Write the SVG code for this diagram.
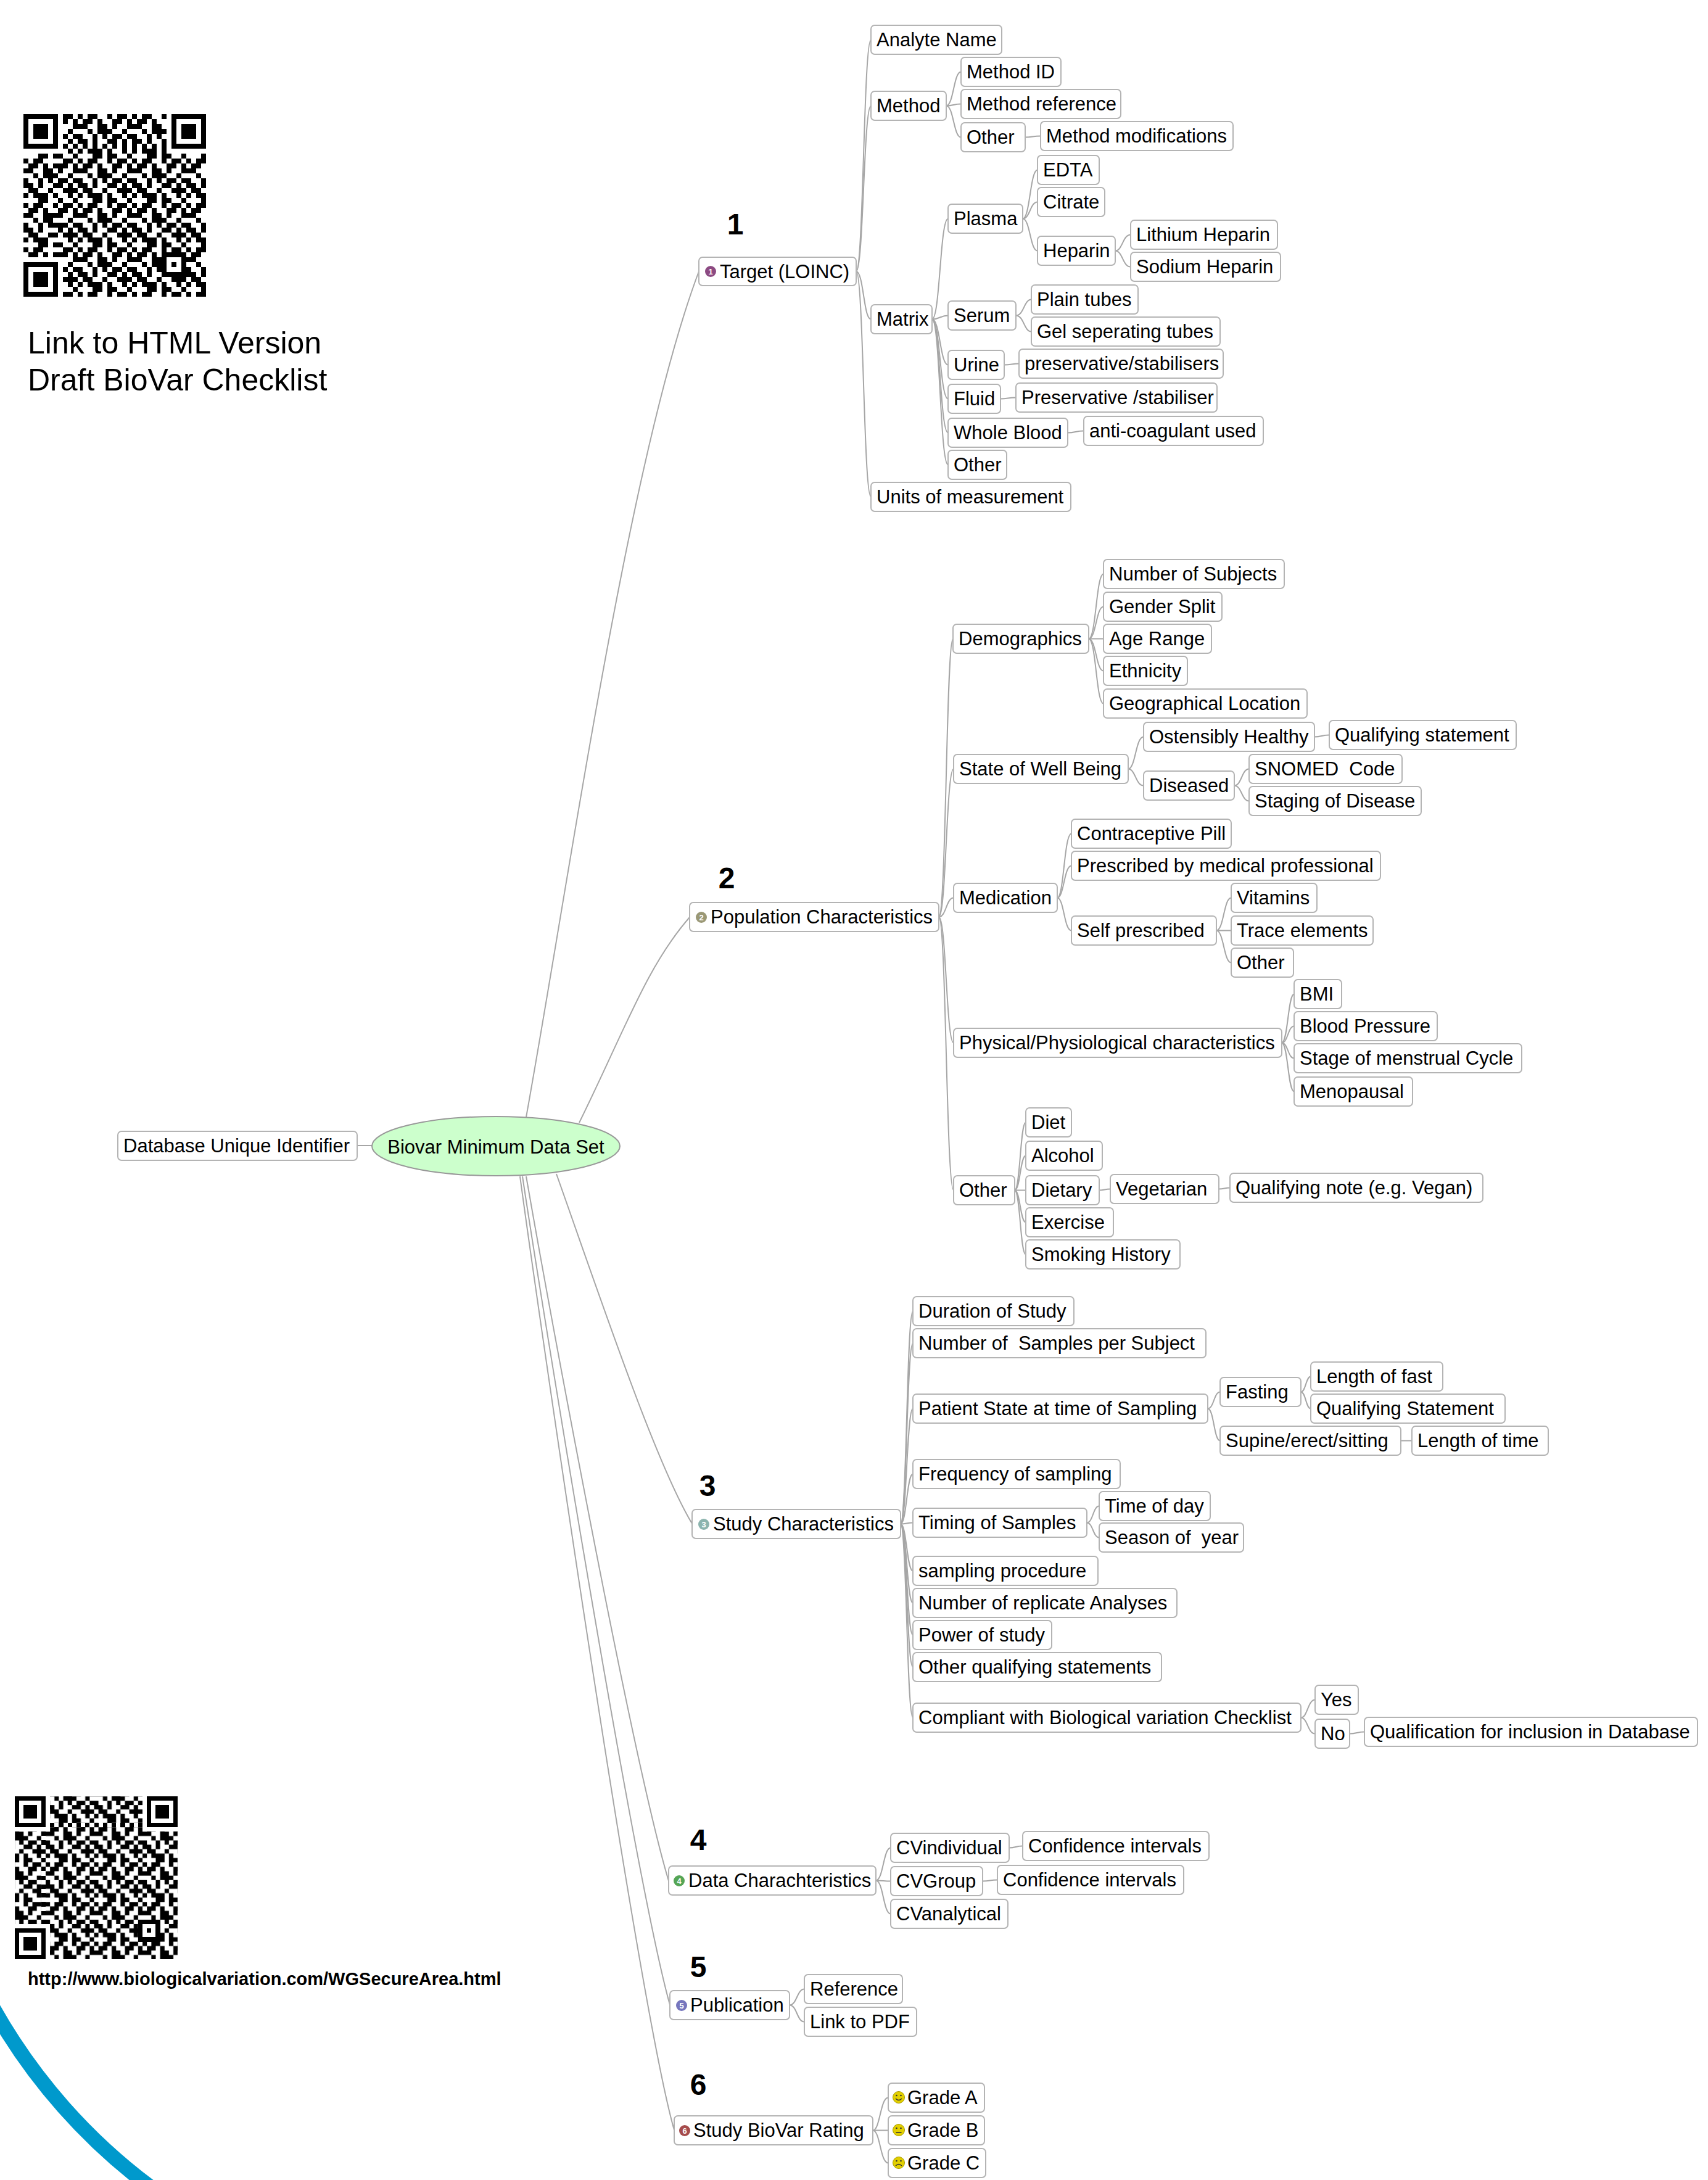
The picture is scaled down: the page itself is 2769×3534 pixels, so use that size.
<svg xmlns="http://www.w3.org/2000/svg" width="2769" height="3534" viewBox="0 0 2769 3534">
<style>
.b{fill:#fff;stroke:#b4b4b4;stroke-width:2;rx:6px;ry:6px}
.t{font-family:"Liberation Sans",Arial,sans-serif;font-size:31px;fill:#000;white-space:pre}
.c{fill:none;stroke:#a6a6a6;stroke-width:2}
.num{font-family:"Liberation Sans",Arial,sans-serif;font-size:48px;font-weight:bold;fill:#000;text-anchor:middle}
.big{font-family:"Liberation Sans",Arial,sans-serif;font-size:50px;fill:#000}
.url{font-family:"Liberation Sans",Arial,sans-serif;font-size:29px;font-weight:bold;fill:#000}
.ic{font-family:"Liberation Sans",Arial,sans-serif;font-size:13px;font-weight:bold;fill:#fff;text-anchor:middle}
.sm{fill:#e2cf00;stroke:#a89a00;stroke-width:1}
.face{fill:none;stroke:#333;stroke-width:1.6}
</style>
<defs>
<pattern id="qrp" width="11" height="9" patternUnits="userSpaceOnUse">
<path d="M0 0h1v1h-1zM2 0h2v1h-2zM6 0h1v1h-1zM8 0h2v1h-2zM1 1h2v1h-2zM4 1h1v1h-1zM7 1h2v1h-2zM10 1h1v1h-1zM0 2h2v1h-2zM4 2h2v1h-2zM7 2h1v1h-1zM10 2h1v1h-1zM2 3h1v1h-1zM4 3h3v1h-3zM9 3h1v1h-1zM0 4h1v1h-1zM3 4h1v1h-1zM5 4h1v1h-1zM7 4h2v1h-2zM10 4h1v1h-1zM0 5h2v1h-2zM3 5h1v1h-1zM6 5h2v1h-2zM9 5h1v1h-1zM1 6h2v1h-2zM5 6h1v1h-1zM8 6h3v1h-3zM0 7h1v1h-1zM2 7h3v1h-3zM6 7h1v1h-1zM9 7h1v1h-1zM3 8h2v1h-2zM6 8h2v1h-2zM10 8h1v1h-1z" fill="#000"/>
</pattern>
<g id="qrfix" shape-rendering="crispEdges">
<rect x="0" y="0" width="8" height="8" fill="#fff"/><rect x="29" y="0" width="8" height="8" fill="#fff"/><rect x="0" y="29" width="8" height="8" fill="#fff"/>
<rect x="8" y="6" width="21" height="1" fill="#fff"/><rect x="6" y="8" width="1" height="21" fill="#fff"/>
<path d="M0 0h7v7h-7zM30 0h7v7h-7zM0 30h7v7h-7zM28 28h5v5h-5z" fill="#000"/>
<path d="M1 1h5v5h-5zM31 1h5v5h-5zM1 31h5v5h-5zM29 29h3v3h-3z" fill="#fff"/>
<path d="M2 2h3v3h-3zM32 2h3v3h-3zM2 32h3v3h-3zM30 30h1v1h-1zM8 6h1v1h-1zM10 6h1v1h-1zM12 6h1v1h-1zM14 6h1v1h-1zM16 6h1v1h-1zM18 6h1v1h-1zM20 6h1v1h-1zM22 6h1v1h-1zM24 6h1v1h-1zM26 6h1v1h-1zM28 6h1v1h-1zM6 8h1v1h-1zM6 10h1v1h-1zM6 12h1v1h-1zM6 14h1v1h-1zM6 16h1v1h-1zM6 18h1v1h-1zM6 20h1v1h-1zM6 22h1v1h-1zM6 24h1v1h-1zM6 26h1v1h-1zM6 28h1v1h-1z" fill="#000"/>
</g>
</defs>
<rect width="2769" height="3534" fill="#fff"/>

<g id="qr-top" transform="translate(38,185) scale(8)" shape-rendering="crispEdges">
<rect width="37" height="37" fill="url(#qrp)"/>
<use href="#qrfix"/>
</g>
<g id="qr-bottom" transform="translate(24,2912) scale(7.14)" shape-rendering="crispEdges">
<g transform="translate(-4,-3)"><rect x="4" y="3" width="37" height="37" fill="url(#qrp)"/></g>
<use href="#qrfix"/>
</g>
<text class="big" x="45" y="573">Link to HTML Version</text>
<text class="big" x="45" y="633">Draft BioVar Checklist</text>
<text class="url" x="45" y="3218">http://www.biologicalvariation.com/WGSecureArea.html</text>
<path id="blue-arc" d="M-20 3239 A930 930 0 0 0 264 3560" fill="none" stroke="#0099cc" stroke-width="24"/>

<g id="connectors">
<path class="c" d="M579 1857H603"/>
<path class="c" d="M853 1811C925 1411 1020 740 1133 440"/>
<path class="c" d="M939 1820C1013 1670 1048 1567 1118 1487"/>
<path class="c" d="M902 1903C973 2103 1062 2370 1122 2470"/>
<path class="c" d="M853 1907C888 2107 1024 2849 1084 3049"/>
<path class="c" d="M847 1907C877 2107 1030 3050 1086 3250"/>
<path class="c" d="M843 1907C870 2107 1035 3250 1093 3453"/>
<!-- branch 1 -->
<path class="c" d="M1388 440C1400 440 1400 64.5 1412 64.5"/>
<path class="c" d="M1388 440C1400 440 1400 171.5 1412 171.5"/>
<path class="c" d="M1388 440C1400 440 1400 517.5 1412 517.5"/>
<path class="c" d="M1388 440C1400 440 1400 805.5 1412 805.5"/>
<path class="c" d="M1534 171.5C1546 171.5 1546 116.5 1558 116.5"/>
<path class="c" d="M1534 171.5C1546 171.5 1546 168.5 1558 168.5"/>
<path class="c" d="M1534 171.5C1546 171.5 1546 222.5 1558 222.5"/>
<path class="c" d="M1662 222.5C1674 222.5 1674 220.5 1687 220.5"/>
<path class="c" d="M1511 517.5C1524 517.5 1524 354.5 1537 354.5"/>
<path class="c" d="M1511 517.5C1524 517.5 1524 511.5 1537 511.5"/>
<path class="c" d="M1511 517.5C1524 517.5 1524 591.5 1537 591.5"/>
<path class="c" d="M1511 517.5C1524 517.5 1524 646.5 1537 646.5"/>
<path class="c" d="M1511 517.5C1524 517.5 1524 701.5 1537 701.5"/>
<path class="c" d="M1511 517.5C1524 517.5 1524 753.5 1537 753.5"/>
<path class="c" d="M1658 354.5C1670 354.5 1670 275.5 1682 275.5"/>
<path class="c" d="M1658 354.5C1670 354.5 1670 327.5 1682 327.5"/>
<path class="c" d="M1658 354.5C1670 354.5 1670 406.5 1682 406.5"/>
<path class="c" d="M1808 406.5C1820 406.5 1820 380.5 1833 380.5"/>
<path class="c" d="M1808 406.5C1820 406.5 1820 432.5 1833 432.5"/>
<path class="c" d="M1647 511.5C1660 511.5 1660 485.5 1672 485.5"/>
<path class="c" d="M1647 511.5C1660 511.5 1660 537.5 1672 537.5"/>
<path class="c" d="M1628 591.5C1640 591.5 1640 589.5 1652 589.5"/>
<path class="c" d="M1622 646.5C1634 646.5 1634 644.5 1647 644.5"/>
<path class="c" d="M1731 701.5C1744 701.5 1744 698.5 1757 698.5"/>
<!-- branch 2 -->
<path class="c" d="M1522 1486.5C1534 1486.5 1534 1035.5 1545 1035.5"/>
<path class="c" d="M1522 1486.5C1534 1486.5 1534 1246.5 1546 1246.5"/>
<path class="c" d="M1522 1486.5C1534 1486.5 1534 1455.5 1546 1455.5"/>
<path class="c" d="M1522 1486.5C1534 1486.5 1534 1690.5 1546 1690.5"/>
<path class="c" d="M1522 1486.5C1534 1486.5 1534 1929.5 1546 1929.5"/>
<path class="c" d="M1765 1035.5C1777 1035.5 1777 930.5 1789 930.5"/>
<path class="c" d="M1765 1035.5C1777 1035.5 1777 983.5 1789 983.5"/>
<path class="c" d="M1765 1035.5C1777 1035.5 1777 1035.5 1789 1035.5"/>
<path class="c" d="M1765 1035.5C1777 1035.5 1777 1087.5 1789 1087.5"/>
<path class="c" d="M1765 1035.5C1777 1035.5 1777 1140.5 1789 1140.5"/>
<path class="c" d="M1829 1246.5C1841 1246.5 1841 1194.5 1854 1194.5"/>
<path class="c" d="M1829 1246.5C1841 1246.5 1841 1273.5 1854 1273.5"/>
<path class="c" d="M2131 1194.5C2143 1194.5 2143 1191.5 2155 1191.5"/>
<path class="c" d="M2001 1273.5C2013 1273.5 2013 1246.5 2025 1246.5"/>
<path class="c" d="M2001 1273.5C2013 1273.5 2013 1298.5 2025 1298.5"/>
<path class="c" d="M1714 1455.5C1725 1455.5 1725 1351.5 1737 1351.5"/>
<path class="c" d="M1714 1455.5C1725 1455.5 1725 1403.5 1737 1403.5"/>
<path class="c" d="M1714 1455.5C1725 1455.5 1725 1508.5 1737 1508.5"/>
<path class="c" d="M1972 1508.5C1984 1508.5 1984 1455.5 1996 1455.5"/>
<path class="c" d="M1972 1508.5C1984 1508.5 1984 1508.5 1996 1508.5"/>
<path class="c" d="M1972 1508.5C1984 1508.5 1984 1560.5 1996 1560.5"/>
<path class="c" d="M2078 1690.5C2088 1690.5 2088 1611.5 2098 1611.5"/>
<path class="c" d="M2078 1690.5C2088 1690.5 2088 1663.5 2098 1663.5"/>
<path class="c" d="M2078 1690.5C2088 1690.5 2088 1715.5 2098 1715.5"/>
<path class="c" d="M2078 1690.5C2088 1690.5 2088 1769.5 2098 1769.5"/>
<path class="c" d="M1645 1929.5C1654 1929.5 1654 1819.5 1663 1819.5"/>
<path class="c" d="M1645 1929.5C1654 1929.5 1654 1873.5 1663 1873.5"/>
<path class="c" d="M1645 1929.5C1654 1929.5 1654 1929.5 1663 1929.5"/>
<path class="c" d="M1645 1929.5C1654 1929.5 1654 1981.5 1663 1981.5"/>
<path class="c" d="M1645 1929.5C1654 1929.5 1654 2033.5 1663 2033.5"/>
<path class="c" d="M1782 1929.5C1791 1929.5 1791 1927.5 1800 1927.5"/>
<path class="c" d="M1976 1927.5C1985 1927.5 1985 1925.5 1994 1925.5"/>
<!-- branch 3 -->
<path class="c" d="M1460 2470.5C1470 2470.5 1470 2125.5 1480 2125.5"/>
<path class="c" d="M1460 2470.5C1470 2470.5 1470 2177.5 1480 2177.5"/>
<path class="c" d="M1460 2470.5C1470 2470.5 1470 2283.5 1480 2283.5"/>
<path class="c" d="M1460 2470.5C1470 2470.5 1470 2389.5 1480 2389.5"/>
<path class="c" d="M1460 2470.5C1470 2470.5 1470 2468.5 1480 2468.5"/>
<path class="c" d="M1460 2470.5C1470 2470.5 1470 2546.5 1480 2546.5"/>
<path class="c" d="M1460 2470.5C1470 2470.5 1470 2598.5 1480 2598.5"/>
<path class="c" d="M1460 2470.5C1470 2470.5 1470 2650.5 1480 2650.5"/>
<path class="c" d="M1460 2470.5C1470 2470.5 1470 2702.5 1480 2702.5"/>
<path class="c" d="M1460 2470.5C1470 2470.5 1470 2784.5 1480 2784.5"/>
<path class="c" d="M1958 2283.5C1968 2283.5 1968 2256.5 1978 2256.5"/>
<path class="c" d="M1958 2283.5C1968 2283.5 1968 2335.5 1978 2335.5"/>
<path class="c" d="M2109 2256.5C2117 2256.5 2117 2231.5 2125 2231.5"/>
<path class="c" d="M2109 2256.5C2117 2256.5 2117 2283.5 2125 2283.5"/>
<path class="c" d="M2271 2335.5C2280 2335.5 2280 2335.5 2289 2335.5"/>
<path class="c" d="M1762 2468.5C1772 2468.5 1772 2441.5 1782 2441.5"/>
<path class="c" d="M1762 2468.5C1772 2468.5 1772 2492.5 1782 2492.5"/>
<path class="c" d="M2109 2784.5C2120 2784.5 2120 2755.5 2132 2755.5"/>
<path class="c" d="M2109 2784.5C2120 2784.5 2120 2810.5 2132 2810.5"/>
<path class="c" d="M2188 2810.5C2200 2810.5 2200 2807.5 2212 2807.5"/>
<!-- branch 4 -->
<path class="c" d="M1420 3048.5C1432 3048.5 1432 2995.5 1444 2995.5"/>
<path class="c" d="M1420 3048.5C1432 3048.5 1432 3049.5 1444 3049.5"/>
<path class="c" d="M1420 3048.5C1432 3048.5 1432 3102.5 1444 3102.5"/>
<path class="c" d="M1636 2995.5C1647 2995.5 1647 2992.5 1658 2992.5"/>
<path class="c" d="M1593 3049.5C1605 3049.5 1605 3047.5 1617 3047.5"/>
<!-- branch 5 -->
<path class="c" d="M1280 3250.5C1292 3250.5 1292 3224.5 1304 3224.5"/>
<path class="c" d="M1280 3250.5C1292 3250.5 1292 3277.5 1304 3277.5"/>
<!-- branch 6 -->
<path class="c" d="M1415 3453.5C1427 3453.5 1427 3400.5 1440 3400.5"/>
<path class="c" d="M1415 3453.5C1427 3453.5 1427 3453.5 1440 3453.5"/>
<path class="c" d="M1415 3453.5C1427 3453.5 1427 3506.5 1440 3506.5"/>
</g>

<g id="root"><ellipse cx="804" cy="1858" rx="201" ry="48" fill="#ccffcc" stroke="#999" stroke-width="2"/><text class="t" x="804" y="1870" text-anchor="middle">Biovar Minimum Data Set</text></g>
<g id="n-dbid"><rect class="b" x="191" y="1834" width="388" height="47"/><text class="t" x="200" y="1868">Database Unique Identifier</text></g>

<text class="num" x="1192" y="380">1</text>
<text class="num" x="1178" y="1440">2</text>
<text class="num" x="1147" y="2425">3</text>
<text class="num" x="1132" y="2999">4</text>
<text class="num" x="1132" y="3205">5</text>
<text class="num" x="1132" y="3396">6</text>

<!-- Branch 1 -->
<g id="n-target"><rect class="b" x="1133" y="417" width="255" height="46"/><circle cx="1152" cy="440" r="9" fill="#8c4a82"/><text class="ic" x="1152" y="445">1</text><text class="t" x="1167" y="451">Target (LOINC)</text></g>
<g id="n-analyte"><rect class="b" x="1412" y="41" width="212" height="47"/><text class="t" x="1421" y="75">Analyte Name</text></g>
<g id="n-method"><rect class="b" x="1412" y="148" width="122" height="47"/><text class="t" x="1421" y="182">Method</text></g>
<g id="n-methodid"><rect class="b" x="1558" y="93" width="162" height="47"/><text class="t" x="1567" y="127">Method ID</text></g>
<g id="n-methodref"><rect class="b" x="1558" y="145" width="259" height="47"/><text class="t" x="1567" y="179">Method reference</text></g>
<g id="n-mother"><rect class="b" x="1558" y="199" width="104" height="47"/><text class="t" x="1567" y="233">Other</text></g>
<g id="n-methodmod"><rect class="b" x="1687" y="197" width="312" height="47"/><text class="t" x="1696" y="231">Method modifications</text></g>
<g id="n-matrix"><rect class="b" x="1412" y="494" width="99" height="47"/><text class="t" x="1421" y="528">Matrix</text></g>
<g id="n-plasma"><rect class="b" x="1537" y="331" width="121" height="47"/><text class="t" x="1546" y="365">Plasma</text></g>
<g id="n-edta"><rect class="b" x="1682" y="252" width="100" height="47"/><text class="t" x="1691" y="286">EDTA</text></g>
<g id="n-citrate"><rect class="b" x="1682" y="304" width="109" height="47"/><text class="t" x="1691" y="338">Citrate</text></g>
<g id="n-heparin"><rect class="b" x="1682" y="383" width="126" height="47"/><text class="t" x="1691" y="417">Heparin</text></g>
<g id="n-lith"><rect class="b" x="1833" y="357" width="238" height="47"/><text class="t" x="1842" y="391">Lithium Heparin</text></g>
<g id="n-sod"><rect class="b" x="1833" y="409" width="243" height="47"/><text class="t" x="1842" y="443">Sodium Heparin</text></g>
<g id="n-serum"><rect class="b" x="1537" y="488" width="110" height="47"/><text class="t" x="1546" y="522">Serum</text></g>
<g id="n-plain"><rect class="b" x="1672" y="462" width="173" height="47"/><text class="t" x="1681" y="496">Plain tubes</text></g>
<g id="n-gel"><rect class="b" x="1672" y="514" width="306" height="47"/><text class="t" x="1681" y="548">Gel seperating tubes</text></g>
<g id="n-urine"><rect class="b" x="1537" y="568" width="91" height="47"/><text class="t" x="1546" y="602">Urine</text></g>
<g id="n-pres1"><rect class="b" x="1652" y="566" width="331" height="47"/><text class="t" x="1661" y="600">preservative/stabilisers</text></g>
<g id="n-fluid"><rect class="b" x="1537" y="623" width="85" height="47"/><text class="t" x="1546" y="657">Fluid</text></g>
<g id="n-pres2"><rect class="b" x="1647" y="621" width="326" height="47"/><text class="t" x="1656" y="655">Preservative /stabiliser</text></g>
<g id="n-wb"><rect class="b" x="1537" y="678" width="194" height="47"/><text class="t" x="1546" y="712">Whole Blood</text></g>
<g id="n-anti"><rect class="b" x="1757" y="675" width="291" height="47"/><text class="t" x="1766" y="709">anti-coagulant used</text></g>
<g id="n-xother"><rect class="b" x="1537" y="730" width="95" height="47"/><text class="t" x="1546" y="764">Other</text></g>
<g id="n-units"><rect class="b" x="1412" y="782" width="324" height="47"/><text class="t" x="1421" y="816">Units of measurement</text></g>

<!-- Branch 2 -->
<g id="n-pop"><rect class="b" x="1118" y="1463" width="404" height="47"/><circle cx="1137" cy="1487" r="9" fill="#9a9876"/><text class="ic" x="1137" y="1492">2</text><text class="t" x="1152" y="1497">Population Characteristics</text></g>
<g id="n-demo"><rect class="b" x="1545" y="1012" width="220" height="47"/><text class="t" x="1554" y="1046">Demographics</text></g>
<g id="n-nsub"><rect class="b" x="1789" y="907" width="293" height="47"/><text class="t" x="1798" y="941">Number of Subjects</text></g>
<g id="n-gender"><rect class="b" x="1789" y="960" width="192" height="47"/><text class="t" x="1798" y="994">Gender Split</text></g>
<g id="n-age"><rect class="b" x="1789" y="1012" width="175" height="47"/><text class="t" x="1798" y="1046">Age Range</text></g>
<g id="n-eth"><rect class="b" x="1789" y="1064" width="136" height="47"/><text class="t" x="1798" y="1098">Ethnicity</text></g>
<g id="n-geo"><rect class="b" x="1789" y="1117" width="330" height="47"/><text class="t" x="1798" y="1151">Geographical Location</text></g>
<g id="n-swb"><rect class="b" x="1546" y="1223" width="283" height="47"/><text class="t" x="1555" y="1257">State of Well Being</text></g>
<g id="n-osh"><rect class="b" x="1854" y="1171" width="277" height="47"/><text class="t" x="1863" y="1205">Ostensibly Healthy</text></g>
<g id="n-qs"><rect class="b" x="2155" y="1168" width="303" height="47"/><text class="t" x="2164" y="1202">Qualifying statement</text></g>
<g id="n-dis"><rect class="b" x="1854" y="1250" width="147" height="47"/><text class="t" x="1863" y="1284">Diseased</text></g>
<g id="n-snomed"><rect class="b" x="2025" y="1223" width="248" height="47"/><text class="t" x="2034" y="1257">SNOMED  Code</text></g>
<g id="n-stag"><rect class="b" x="2025" y="1275" width="279" height="47"/><text class="t" x="2034" y="1309">Staging of Disease</text></g>
<g id="n-med"><rect class="b" x="1546" y="1432" width="168" height="47"/><text class="t" x="1555" y="1466">Medication</text></g>
<g id="n-cpill"><rect class="b" x="1737" y="1328" width="259" height="47"/><text class="t" x="1746" y="1362">Contraceptive Pill</text></g>
<g id="n-presc"><rect class="b" x="1737" y="1380" width="501" height="47"/><text class="t" x="1746" y="1414">Prescribed by medical professional</text></g>
<g id="n-self"><rect class="b" x="1737" y="1485" width="235" height="47"/><text class="t" x="1746" y="1519">Self prescribed</text></g>
<g id="n-vit"><rect class="b" x="1996" y="1432" width="139" height="47"/><text class="t" x="2005" y="1466">Vitamins</text></g>
<g id="n-trace"><rect class="b" x="1996" y="1485" width="230" height="47"/><text class="t" x="2005" y="1519">Trace elements</text></g>
<g id="n-sother"><rect class="b" x="1996" y="1537" width="101" height="47"/><text class="t" x="2005" y="1571">Other</text></g>
<g id="n-phys"><rect class="b" x="1546" y="1667" width="532" height="47"/><text class="t" x="1555" y="1701">Physical/Physiological characteristics</text></g>
<g id="n-bmi"><rect class="b" x="2098" y="1588" width="77" height="47"/><text class="t" x="2107" y="1622">BMI</text></g>
<g id="n-bp"><rect class="b" x="2098" y="1640" width="232" height="47"/><text class="t" x="2107" y="1674">Blood Pressure</text></g>
<g id="n-stage"><rect class="b" x="2098" y="1692" width="369" height="47"/><text class="t" x="2107" y="1726">Stage of menstrual Cycle</text></g>
<g id="n-meno"><rect class="b" x="2098" y="1746" width="192" height="47"/><text class="t" x="2107" y="1780">Menopausal</text></g>
<g id="n-pother"><rect class="b" x="1546" y="1906" width="99" height="47"/><text class="t" x="1555" y="1940">Other</text></g>
<g id="n-diet"><rect class="b" x="1663" y="1796" width="74" height="47"/><text class="t" x="1672" y="1830">Diet</text></g>
<g id="n-alc"><rect class="b" x="1663" y="1850" width="124" height="47"/><text class="t" x="1672" y="1884">Alcohol</text></g>
<g id="n-dietary"><rect class="b" x="1663" y="1906" width="119" height="47"/><text class="t" x="1672" y="1940">Dietary</text></g>
<g id="n-veg"><rect class="b" x="1800" y="1904" width="176" height="47"/><text class="t" x="1809" y="1938">Vegetarian</text></g>
<g id="n-qnote"><rect class="b" x="1994" y="1902" width="410" height="47"/><text class="t" x="2003" y="1936">Qualifying note (e.g. Vegan)</text></g>
<g id="n-exer"><rect class="b" x="1663" y="1958" width="142" height="47"/><text class="t" x="1672" y="1992">Exercise</text></g>
<g id="n-smoke"><rect class="b" x="1663" y="2010" width="250" height="47"/><text class="t" x="1672" y="2044">Smoking History</text></g>

<!-- Branch 3 -->
<g id="n-study"><rect class="b" x="1122" y="2447" width="338" height="47"/><circle cx="1141" cy="2471" r="9" fill="#8cb4ae"/><text class="ic" x="1141" y="2476">3</text><text class="t" x="1156" y="2481">Study Characteristics</text></g>
<g id="n-dur"><rect class="b" x="1480" y="2102" width="261" height="47"/><text class="t" x="1489" y="2136">Duration of Study</text></g>
<g id="n-nsamp"><rect class="b" x="1480" y="2154" width="475" height="47"/><text class="t" x="1489" y="2188">Number of  Samples per Subject</text></g>
<g id="n-pstate"><rect class="b" x="1480" y="2260" width="478" height="47"/><text class="t" x="1489" y="2294">Patient State at time of Sampling</text></g>
<g id="n-fast"><rect class="b" x="1978" y="2233" width="131" height="47"/><text class="t" x="1987" y="2267">Fasting</text></g>
<g id="n-lfast"><rect class="b" x="2125" y="2208" width="214" height="47"/><text class="t" x="2134" y="2242">Length of fast</text></g>
<g id="n-qstat"><rect class="b" x="2125" y="2260" width="315" height="47"/><text class="t" x="2134" y="2294">Qualifying Statement</text></g>
<g id="n-supine"><rect class="b" x="1978" y="2312" width="293" height="47"/><text class="t" x="1987" y="2346">Supine/erect/sitting</text></g>
<g id="n-ltime"><rect class="b" x="2289" y="2312" width="221" height="47"/><text class="t" x="2298" y="2346">Length of time</text></g>
<g id="n-freq"><rect class="b" x="1480" y="2366" width="336" height="47"/><text class="t" x="1489" y="2400">Frequency of sampling</text></g>
<g id="n-timing"><rect class="b" x="1480" y="2445" width="282" height="47"/><text class="t" x="1489" y="2479">Timing of Samples</text></g>
<g id="n-tod"><rect class="b" x="1782" y="2418" width="180" height="47"/><text class="t" x="1791" y="2452">Time of day</text></g>
<g id="n-season"><rect class="b" x="1782" y="2469" width="234" height="47"/><text class="t" x="1791" y="2503">Season of  year</text></g>
<g id="n-sproc"><rect class="b" x="1480" y="2523" width="300" height="47"/><text class="t" x="1489" y="2557">sampling procedure</text></g>
<g id="n-nrep"><rect class="b" x="1480" y="2575" width="428" height="47"/><text class="t" x="1489" y="2609">Number of replicate Analyses</text></g>
<g id="n-power"><rect class="b" x="1480" y="2627" width="225" height="47"/><text class="t" x="1489" y="2661">Power of study</text></g>
<g id="n-oqs"><rect class="b" x="1480" y="2679" width="403" height="47"/><text class="t" x="1489" y="2713">Other qualifying statements</text></g>
<g id="n-compl"><rect class="b" x="1480" y="2761" width="629" height="47"/><text class="t" x="1489" y="2795">Compliant with Biological variation Checklist</text></g>
<g id="n-yes"><rect class="b" x="2132" y="2732" width="70" height="47"/><text class="t" x="2141" y="2766">Yes</text></g>
<g id="n-no"><rect class="b" x="2132" y="2787" width="56" height="47"/><text class="t" x="2141" y="2821">No</text></g>
<g id="n-qual"><rect class="b" x="2212" y="2784" width="540" height="47"/><text class="t" x="2221" y="2818">Qualification for inclusion in Database</text></g>

<!-- Branch 4 -->
<g id="n-data"><rect class="b" x="1084" y="3025" width="336" height="47"/><circle cx="1101" cy="3049" r="9" fill="#55a555"/><text class="ic" x="1101" y="3054">4</text><text class="t" x="1116" y="3059">Data Charachteristics</text></g>
<g id="n-cvi"><rect class="b" x="1444" y="2972" width="192" height="47"/><text class="t" x="1453" y="3006">CVindividual</text></g>
<g id="n-ci1"><rect class="b" x="1658" y="2969" width="302" height="47"/><text class="t" x="1667" y="3003">Confidence intervals</text></g>
<g id="n-cvg"><rect class="b" x="1444" y="3026" width="149" height="47"/><text class="t" x="1453" y="3060">CVGroup</text></g>
<g id="n-ci2"><rect class="b" x="1617" y="3024" width="302" height="47"/><text class="t" x="1626" y="3058">Confidence intervals</text></g>
<g id="n-cva"><rect class="b" x="1444" y="3079" width="190" height="47"/><text class="t" x="1453" y="3113">CVanalytical</text></g>

<!-- Branch 5 -->
<g id="n-pub"><rect class="b" x="1086" y="3227" width="194" height="47"/><circle cx="1105" cy="3251" r="9" fill="#7676bd"/><text class="ic" x="1105" y="3256">5</text><text class="t" x="1119" y="3261">Publication</text></g>
<g id="n-ref"><rect class="b" x="1304" y="3201" width="159" height="47"/><text class="t" x="1313" y="3235">Reference</text></g>
<g id="n-pdf"><rect class="b" x="1304" y="3254" width="182" height="47"/><text class="t" x="1313" y="3288">Link to PDF</text></g>

<!-- Branch 6 -->
<g id="n-rating"><rect class="b" x="1093" y="3430" width="322" height="47"/><circle cx="1110" cy="3454" r="9" fill="#a64c4c"/><text class="ic" x="1110" y="3459">6</text><text class="t" x="1124" y="3464">Study BioVar Rating</text></g>
<g id="n-ga"><rect class="b" x="1440" y="3377" width="156" height="47"/><circle class="sm" cx="1457" cy="3400" r="9.5"/><circle cx="1453.5" cy="3397" r="1.3" fill="#333"/><circle cx="1460.5" cy="3397" r="1.3" fill="#333"/><path class="face" d="M1452 3402Q1457 3407 1462 3402"/><text class="t" x="1471" y="3411">Grade A</text></g>
<g id="n-gb"><rect class="b" x="1440" y="3430" width="156" height="47"/><circle class="sm" cx="1457" cy="3453" r="9.5"/><circle cx="1453.5" cy="3450" r="1.3" fill="#333"/><circle cx="1460.5" cy="3450" r="1.3" fill="#333"/><path class="face" d="M1452.5 3457H1461.5"/><text class="t" x="1471" y="3464">Grade B</text></g>
<g id="n-gc"><rect class="b" x="1440" y="3483" width="158" height="47"/><circle class="sm" cx="1457" cy="3506" r="9.5"/><circle cx="1453.5" cy="3503" r="1.3" fill="#333"/><circle cx="1460.5" cy="3503" r="1.3" fill="#333"/><path class="face" d="M1452 3511Q1457 3506 1462 3511"/><text class="t" x="1471" y="3517">Grade C</text></g>
</svg>
